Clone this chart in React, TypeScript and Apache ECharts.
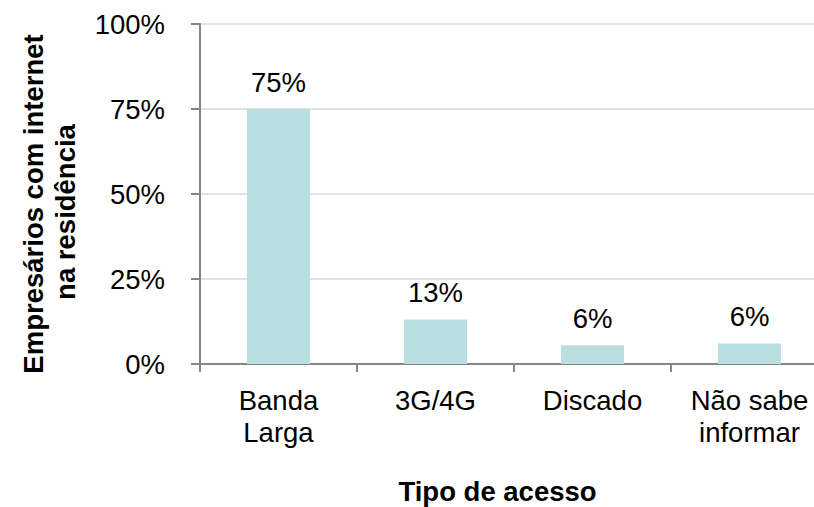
import React, { useEffect, useRef } from "react";
import * as echarts from "echarts";

const categories = ["Banda\nLarga", "3G/4G", "Discado", "Não sabe\ninformar"];
const values = [75, 13.1, 5.5, 6.0];
const valueLabels = ["75%", "13%", "6%", "6%"];
const yTicks = [0, 25, 50, 75, 100];
const yTitleLines = ["Empresários com internet", "na residência"];
const xTitle = "Tipo de acesso";

const FONT = "'Liberation Sans', Arial, sans-serif";
const FS = 27.5;

export default function App() {
  const ref = useRef<HTMLDivElement>(null);
  useEffect(() => {
    if (!ref.current) return;
    const chart = echarts.init(ref.current, null, { renderer: "svg" });
    chart.setOption({
      animation: false,
      backgroundColor: "#ffffff",
      grid: { left: 200, top: 24, right: 0, bottom: 143, containLabel: false },
      xAxis: {
        type: "category",
        data: categories,
        axisLine: { show: true, lineStyle: { color: "#868686", width: 2 } },
        axisTick: { show: true, length: 8, lineStyle: { color: "#868686", width: 2 } },
        axisLabel: {
          color: "#000000",
          fontFamily: FONT,
          fontSize: FS,
          lineHeight: 32.5,
          margin: 20,
          interval: 0,
          verticalAlign: "top",
        },
      },
      yAxis: {
        type: "value",
        min: yTicks[0],
        max: yTicks[yTicks.length - 1],
        interval: 25,
        axisLine: { show: true, lineStyle: { color: "#868686", width: 2 } },
        axisTick: { show: true, length: 9, lineStyle: { color: "#868686", width: 2 } },
        splitLine: { show: true, lineStyle: { color: "#d9d9d9", width: 1.5 } },
        axisLabel: {
          color: "#000000",
          fontFamily: FONT,
          fontSize: FS,
          margin: 35,
          formatter: "{value}%",
        },
      },
      series: [
        {
          type: "bar",
          data: values,
          barWidth: 63,
          itemStyle: { color: "#b9dfe2" },
          label: {
            show: true,
            position: "top",
            distance: 13,
            color: "#000000",
            fontFamily: FONT,
            fontSize: FS,
            formatter: (p: any) => valueLabels[p.dataIndex],
          },
        },
      ],
      graphic: [
        {
          type: "text",
          x: 33,
          y: 204,
          rotation: Math.PI / 2,
          style: {
            text: yTitleLines[0],
            fontFamily: FONT,
            fontSize: FS,
            fontWeight: "bold",
            fill: "#000000",
            textAlign: "center",
            textVerticalAlign: "middle",
          },
        },
        {
          type: "text",
          x: 65.5,
          y: 212,
          rotation: Math.PI / 2,
          style: {
            text: yTitleLines[1],
            fontFamily: FONT,
            fontSize: FS,
            fontWeight: "bold",
            fill: "#000000",
            textAlign: "center",
            textVerticalAlign: "middle",
          },
        },
        {
          type: "text",
          x: 497.5,
          y: 491,
          style: {
            text: xTitle,
            fontFamily: FONT,
            fontSize: FS,
            fontWeight: "bold",
            fill: "#000000",
            textAlign: "center",
            textVerticalAlign: "middle",
          },
        },
      ],
    });
    return () => chart.dispose();
  }, []);
  return (
    <div style={{ position: "fixed", left: 0, top: 0, width: 814, height: 507, overflow: "hidden" }}>
      <div ref={ref} style={{ width: 828, height: 507 }} />
    </div>
  );
}
